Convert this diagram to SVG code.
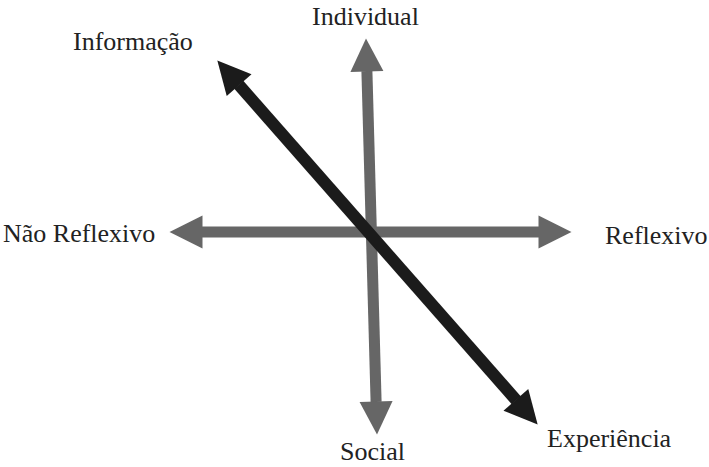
<svg xmlns="http://www.w3.org/2000/svg" width="709" height="467" viewBox="0 0 709 467">
  <style>
    .lbl { font-family: "Liberation Serif", "Times New Roman", serif; font-size: 26px; fill: #222; }
    .gray { stroke: #666; stroke-width: 11; fill: none; }
    .black { stroke: #1b1b1b; stroke-width: 12; fill: none; }
  </style>
  <defs>
    <marker id="headGray" markerUnits="userSpaceOnUse" viewBox="0 -17 34 34" markerWidth="34" markerHeight="34" refX="0.5" refY="0" orient="auto-start-reverse" overflow="visible">
      <path d="M0,-16.5 L33,0 L0,16.5 Z" fill="#666"/>
    </marker>
    <marker id="headBlack" markerUnits="userSpaceOnUse" viewBox="0 -17 34 34" markerWidth="34" markerHeight="34" refX="0.5" refY="0" orient="auto-start-reverse" overflow="visible">
      <path d="M0,-16.5 L33,0 L0,16.5 Z" fill="#1b1b1b"/>
    </marker>
  </defs>
  <g id="connectors">
    <line id="axis-vertical" class="gray" x1="366.9" y1="71" x2="376.1" y2="402" marker-start="url(#headGray)" marker-end="url(#headGray)"/>
    <line id="axis-horizontal" class="gray" x1="202" y1="232" x2="539" y2="232" marker-start="url(#headGray)" marker-end="url(#headGray)"/>
    <line id="axis-diagonal" class="black" x1="238.8" y1="84.8" x2="516.2" y2="400.2" marker-start="url(#headBlack)" marker-end="url(#headBlack)"/>
  </g>
  <g id="node-individual"><text class="lbl" x="312" y="25">Individual</text></g>
  <g id="node-social"><text class="lbl" x="340" y="460">Social</text></g>
  <g id="node-informacao"><text class="lbl" x="73" y="50">Informação</text></g>
  <g id="node-experiencia"><text class="lbl" x="547" y="447">Experiência</text></g>
  <g id="node-nao-reflexivo"><text class="lbl" x="3" y="242">Não Reflexivo</text></g>
  <g id="node-reflexivo"><text class="lbl" x="605" y="244">Reflexivo</text></g>
</svg>
